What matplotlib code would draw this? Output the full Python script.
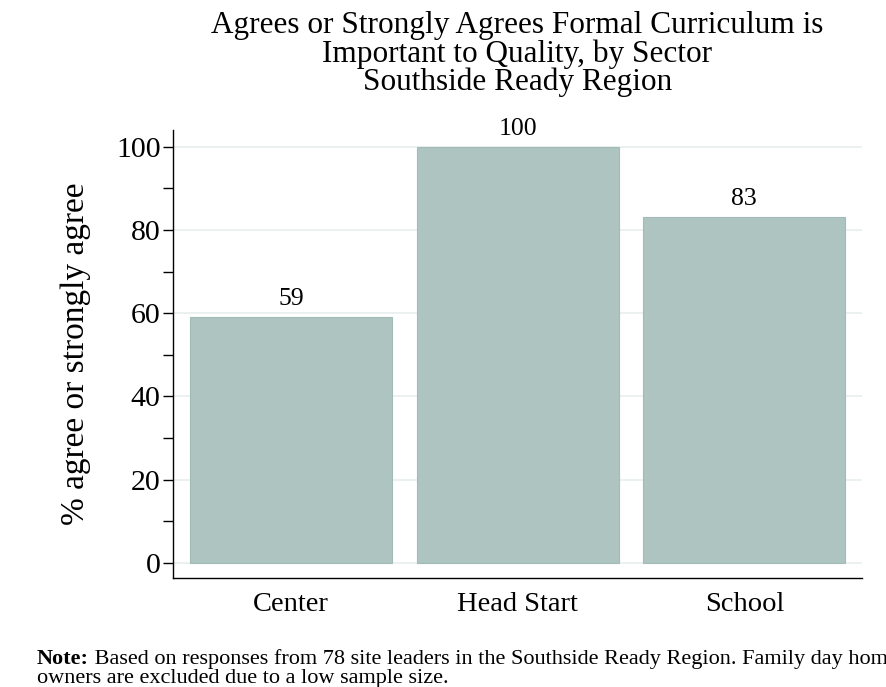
import matplotlib
matplotlib.use("Agg")
import matplotlib.pyplot as plt
from matplotlib.ticker import MultipleLocator

# data
sectors = ["Center", "Head Start", "School"]
pct_agree = [59, 100, 83]

title_lines = ["Agrees or Strongly Agrees Formal Curriculum is",
               "Important to Quality, by Sector",
               "Southside Ready Region"]
note_line1 = (" Based on responses from 78 site leaders in the Southside Ready Region. "
              "Family day home")
note_line2 = "owners are excluded due to a low sample size."

BAR_COLOR = "#adc4c0"
GRID_COLOR = "#e8efee"

plt.rcParams["font.family"] = "Liberation Serif"

fig = plt.figure(figsize=(8.86, 6.87), dpi=100)
ax = fig.add_axes([0.1953, 0.1587, 0.7776, 0.6521])

x = list(range(len(sectors)))
ax.bar(x, pct_agree, width=0.892, color=BAR_COLOR, edgecolor="#a3bbb7",
       linewidth=0.8, zorder=2)

for xi, v in zip(x, pct_agree):
    ax.annotate(f"{v}", (xi, v), xytext=(0, 5), textcoords="offset points",
                ha="center", va="bottom", fontsize=18.5)

ax.set_xlim(-0.521, 2.519)
ax.set_ylim(-3.6, 104)
ax.set_xticks(x)
ax.set_xticklabels(sectors, fontsize=20.5)
ax.tick_params(axis="x", length=0, pad=10)

ax.yaxis.set_major_locator(MultipleLocator(20))
ax.yaxis.set_minor_locator(MultipleLocator(10))
ax.tick_params(axis="y", which="both", length=7, width=1, labelsize=21.5, pad=2)
ax.set_ylabel("% agree or strongly agree", fontsize=24, labelpad=18)

ax.grid(axis="y", which="major", color=GRID_COLOR, linewidth=1.2, zorder=0)
ax.set_axisbelow(True)

for side in ["top", "right"]:
    ax.spines[side].set_visible(False)
ax.spines["left"].set_linewidth(1)
ax.spines["bottom"].set_linewidth(1)

for i, line in enumerate(title_lines):
    fig.text(517.5 / 886, 1 - (26 + 28 * i) / 687, line, ha="center",
             va="center", fontsize=22.5)

note = fig.text(37 / 886, 1 - 664 / 687, "Note:", fontweight="bold",
                fontsize=16, va="baseline", ha="left")
fig.canvas.draw()
bb = note.get_window_extent()
fig.text(bb.x1 / 886, 1 - 664 / 687, note_line1, fontsize=16,
         va="baseline", ha="left")
fig.text(37 / 886, 1 - 683 / 687, note_line2, fontsize=16,
         va="baseline", ha="left")

fig.savefig("out.png", dpi=100)
